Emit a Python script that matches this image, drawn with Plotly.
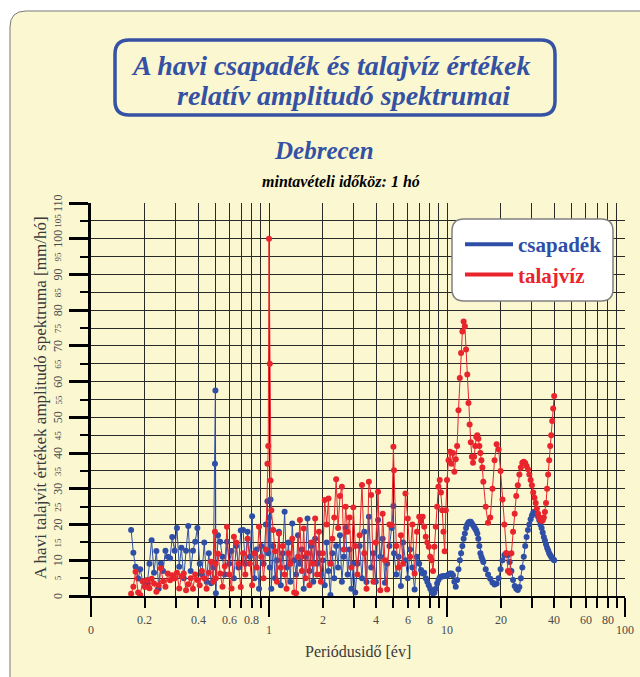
import plotly.graph_objects as go
import math

# ---------------- data ----------------
periods = [
    0.168, 0.173, 0.178, 0.184, 0.189, 0.195, 0.201, 0.207, 0.213, 0.219,
    0.226, 0.233, 0.240, 0.247, 0.254, 0.262, 0.270, 0.278, 0.286, 0.295,
    0.304, 0.313, 0.322, 0.332, 0.342, 0.352, 0.363, 0.374, 0.385, 0.396,
    0.408, 0.420, 0.433, 0.446, 0.459, 0.473, 0.487, 0.497, 0.500, 0.503,
    0.517, 0.532, 0.548, 0.564, 0.581, 0.598, 0.616, 0.635, 0.654, 0.674,
    0.694, 0.715, 0.736, 0.758, 0.781, 0.804, 0.828, 0.853, 0.879, 0.905,
    0.932, 0.960, 0.980, 0.990, 1.000, 1.010, 1.020, 1.030,
    1.056, 1.082, 1.109, 1.137, 1.165, 1.194, 1.224, 1.255, 1.286, 1.318,
    1.351, 1.385, 1.420, 1.455, 1.491, 1.529, 1.567, 1.606, 1.646, 1.687,
    1.729, 1.773, 1.817, 1.862, 1.909, 1.957, 2.006, 2.056, 2.107, 2.160,
    2.214, 2.269, 2.326, 2.384, 2.444, 2.505, 2.567, 2.632, 2.697, 2.765,
    2.834, 2.905, 2.977, 3.052,
    3.14, 3.23, 3.33, 3.43, 3.53, 3.64, 3.75, 3.86, 3.98, 4.10,
    4.22, 4.35, 4.48, 4.61, 4.75, 4.89, 5.00, 5.04, 5.19, 5.35,
    5.51, 5.67, 5.84, 6.02, 6.20, 6.39, 6.58, 6.78, 6.98,
    7.15, 7.3, 7.45, 7.6, 7.75, 7.9, 8.05, 8.2, 8.35, 8.5,
    8.65, 8.8, 8.95, 9.1, 9.25, 9.4, 9.55, 9.7, 9.85,
    10.0, 10.2, 10.4, 10.6, 10.8, 11.0, 11.2, 11.4, 11.6, 11.8,
    12.0, 12.2, 12.4, 12.6, 12.8, 13.0, 13.2, 13.4, 13.6, 13.8,
    14.0, 14.2, 14.4, 14.6, 14.8, 15.0, 15.2, 15.4, 15.6, 15.8,
    16.0,
    16.5, 17.0, 17.5, 18.0, 18.5, 19.0, 19.5, 20.0, 20.5, 21.0,
    21.5, 22.0, 22.5, 23.0, 23.5, 24.0, 24.5, 25.0, 25.5, 26.0,
    26.5, 27.0, 27.5, 28.0, 28.5, 29.0, 29.5, 30.0, 30.5, 31.0,
    31.5, 32.0, 32.5, 33.0, 33.5, 34.0, 34.5, 35.0, 35.5, 36.0,
    36.5, 37.0, 37.5, 38.0, 38.5, 39.0, 39.5, 40.0,
]

csapadek = [
    18.5, 12.1, 8.2, 4.9, 7.5, 4.2, 2.8, 3.5, 9.0, 15.6,
    6.5, 12.6, 2.0, 9.1, 7.0, 12.7, 11.0, 10.6, 16.5, 12.7,
    19.0, 8.2, 13.5, 5.0, 12.7, 19.6, 7.0, 12.7, 15.2, 19.0,
    9.0, 6.0, 15.0, 4.0, 12.0, 3.6, 8.0, 37.0, 57.5, 0.8,
    17.0, 15.2, 11.0, 6.0, 15.2, 9.0, 12.6, 5.0, 14.0, 8.0,
    18.3, 18.5, 9.0, 18.0, 11.0, 22.3, 5.0, 13.0, 2.0, 14.0,
    9.0, 20.0, 26.5, 12.0, 22.0, 8.0, 27.0, 2.0,
    14, 5, 10, 18, 3, 12, 23.6, 8, 15, 4,
    20.3, 10, 6, 17, 9, 13, 2, 11, 21.7, 7,
    14, 4, 16, 9, 12, 6, 10, 3, 15, 7,
    0.3, 12, 5, 14, 8, 17, 4, 11, 19, 6,
    13, 2, 9, 1,
    9, 14, 5, 18, 3.9, 22.2, 8, 12, 4, 21.3,
    11, 16, 3.7, 9, 14, 19, 25.2, 12, 6, 11,
    2.8, 15, 10, 5, 13, 8, 1.8, 11, 9,
    7.3, 6.3, 6.5, 5, 4, 3, 2, 1.2, 0.7, 1.0,
    2, 3.5, 4.5, 5.2, 5.4, 5.5, 5.5, 5.6, 5.6,
    5.7, 6.0, 6.3, 6.3, 5.8, 4.0, 2.6, 4.5, 7.5, 10,
    12, 14, 16, 17.5, 19, 20, 20.6, 20.8, 20.8, 20.3,
    19.8, 19.3, 18.8, 18.3, 17.5, 16, 14, 12, 11, 10.2,
    9.5,
    7.5, 6, 4.8, 3.8, 3.2, 3.5, 5, 7.5, 10, 11.5,
    12, 11.5, 9.5, 7, 4.5, 2.8, 2, 1.7, 2.5, 5,
    8, 11, 14, 16.5, 18.5, 20, 21.5, 22.5, 23.3, 23.6,
    23.4, 23, 22.2, 21.2, 20, 19, 17.8, 16.5, 15.5, 14.5,
    13.5, 12.8, 12, 11.5, 11, 10.6, 10.3, 10,
]

talajviz = [
    0.6, 2.6, 6.8, 1.0, 0.3, 4.1, 2.5, 4.5, 2.2, 4.8,
    3.5, 1.2, 3.0, 7.8, 4.1, 2.6, 6.3, 4.4, 5.8, 4.9,
    6.5, 2.1, 5.5, 6.3, 1.6, 3.3, 5.0, 2.0, 6.0, 4.5,
    3.0, 7.0, 5.0, 2.0, 6.5, 9.6, 4.0, 18.0, 9.0, 5.0,
    11.8, 6.3, 2.6, 8.3, 19.4, 6.0, 2.1, 16.6, 15.0, 9.0,
    2.5, 12.0, 6.0, 16.0, 9.0, 3.0, 12.0, 8.0, 19.4, 11.0,
    5.0, 13.0, 37.0, 42.0, 100.0, 65.0, 32.3, 24.0,
    18.5, 12.5, 4, 17.5, 8, 14, 6, 2, 12, 9,
    16, 1, 0.8, 11, 21.3, 7, 18.9, 5, 12, 3,
    15, 9, 21.7, 6, 18, 4, 12, 26.9, 20, 27.3,
    9, 16, 22, 32.7, 19, 28, 30.6, 13, 25, 18,
    22, 8, 24.8, 14,
    6, 17, 31.1, 12, 2, 32, 28.3, 4, 15, 29.2,
    1.6, 23, 10, 1.8, 20, 19.9, 41.8, 35.2, 14, 8,
    17, 9, 28.7, 21.7, 11, 20, 6.3, 18, 22.2,
    21, 22.2, 19.4, 16.6, 15, 13.8, 11, 10, 7, 13.8,
    19.4, 25, 30.6, 32.5, 29, 24, 18, 12.5, 24,
    32.5, 38, 40.4, 37, 40, 34.8, 38.3, 42, 52, 61,
    68, 74, 76.8, 75.5, 69, 62, 54, 48, 43, 39,
    37.3, 39, 42, 44.5, 45, 44, 42, 40, 38, 36,
    32,
    25, 20.5, 22, 30, 38, 42.5, 41, 35, 27, 20,
    12, 7, 6.5, 12, 18, 23, 28, 31, 34, 36,
    37.3, 37.6, 37.2, 36.4, 35.5, 34, 32.5, 31, 29, 27.5,
    26, 24.5, 23, 22, 21.3, 21, 21.2, 22, 23.5, 26,
    30, 34, 38, 42, 45, 49, 52.5, 56,
]

series_names = ["csapadék", "talajvíz"]

x_ticks_upper = [0.2, 0.4, 0.6, 0.8, 2, 4, 6, 8, 20, 40, 60, 80]
x_labels_upper = ["0.2", "0.4", "0.6", "0.8", "2", "4", "6", "8", "20", "40", "60", "80"]
x_ticks_lower = [0.1, 1, 10, 100]
x_labels_lower = ["0", "1", "10", "100"]
x_minor = [0.2, 0.3, 0.4, 0.5, 0.6, 0.7, 0.8, 0.9,
           2, 3, 4, 5, 6, 7, 8, 9,
           20, 30, 40, 50, 60, 70, 80, 90]
y_ticks = list(range(0, 111, 5))

# ---------------- styling ----------------
BLUE = "#2F4FA7"
RED = "#E8242C"
PANEL = "#FBF7D1"
SERIF = "Liberation Serif"

W, H = 640, 677
L, R, T, B = 91, 625, 203, 596


def fx(px):
    return (px - L) / (R - L)


def fy(py):
    return (B - py) / (B - T)


def rounded(x0, y0, x1, y1, r):
    pts = [
        ("M", [(x0 + r, y0)]),
        ("L", [(x1 - r, y0)]),
        ("Q", [(x1, y0), (x1, y0 + r)]),
        ("L", [(x1, y1 - r)]),
        ("Q", [(x1, y1), (x1 - r, y1)]),
        ("L", [(x0 + r, y1)]),
        ("Q", [(x0, y1), (x0, y1 - r)]),
        ("L", [(x0, y0 + r)]),
        ("Q", [(x0, y0), (x0 + r, y0)]),
    ]
    s = ""
    for cmd, pp in pts:
        s += cmd + " " + " ".join(f"{fx(a):.5f},{fy(b):.5f}" for a, b in pp) + " "
    return s + "Z"


fig = go.Figure()
fig.add_trace(go.Scatter(
    x=periods, y=csapadek, mode="lines+markers",
    line=dict(color=BLUE, width=1), marker=dict(size=6, color=BLUE),
    showlegend=False, name=series_names[0]))
fig.add_trace(go.Scatter(
    x=periods, y=talajviz, mode="lines+markers",
    line=dict(color=RED, width=1), marker=dict(size=6, color=RED),
    showlegend=False, name=series_names[1]))
# legend entries
fig.add_trace(go.Scatter(
    x=[None], y=[None], mode="lines", line=dict(color=BLUE, width=4),
    name=f"<span style='color:{BLUE}'><b>{series_names[0]}</b></span>"))
fig.add_trace(go.Scatter(
    x=[None], y=[None], mode="lines", line=dict(color=RED, width=4),
    name=f"<span style='color:{RED}'><b>{series_names[1]}</b></span>"))

shapes = [
    dict(type="path", xref="paper", yref="paper", layer="below",
         path=rounded(10, 11, 680, 720, 16), fillcolor=PANEL,
         line=dict(color="#7a7a7a", width=1)),
    dict(type="path", xref="paper", yref="paper", layer="above",
         path=rounded(115, 40, 555, 115, 14), fillcolor="rgba(0,0,0,0)",
         line=dict(color="#3552A4", width=3.5)),
    dict(type="path", xref="paper", yref="paper", layer="above",
         path=rounded(452, 219, 613, 301, 12), fillcolor="white",
         line=dict(color="#808080", width=1.5)),
]

ann = []
title_font = dict(family=SERIF, size=28, color="#3451A3")
ann.append(dict(text="<b><i>A havi csapadék és talajvíz értékek</i></b>",
                x=fx(330), y=fy(65), xref="paper", yref="paper",
                showarrow=False, font=title_font, xanchor="center", yanchor="middle"))
ann.append(dict(text="<b><i>relatív amplitudó spektrumai</i></b>",
                x=fx(343), y=fy(95), xref="paper", yref="paper",
                showarrow=False, font=title_font, xanchor="center", yanchor="middle"))
ann.append(dict(text="<b><i>Debrecen</i></b>",
                x=fx(324), y=fy(151), xref="paper", yref="paper",
                showarrow=False, font=dict(family=SERIF, size=25, color="#3451A3"),
                xanchor="center", yanchor="middle"))
ann.append(dict(text="<b><i>mintavételi időköz: 1 hó</i></b>",
                x=fx(341), y=fy(181), xref="paper", yref="paper",
                showarrow=False, font=dict(family=SERIF, size=16, color="black"),
                xanchor="center", yanchor="middle"))

tick_font = dict(family=SERIF, size=12, color="#4a4a4a")
for v, t in zip(x_ticks_upper, x_labels_upper):
    ann.append(dict(text=t, x=math.log10(v), y=fy(620), xref="x", yref="paper",
                    showarrow=False, font=tick_font, xanchor="center", yanchor="middle"))
for v, t in zip(x_ticks_lower, x_labels_lower):
    ann.append(dict(text=t, x=math.log10(v), y=fy(630), xref="x", yref="paper",
                    showarrow=False, font=tick_font, xanchor="center", yanchor="middle"))
for v in y_ticks:
    big = (v % 10 == 0)
    ann.append(dict(text=str(v), x=fx(58), y=v, xref="paper", yref="y",
                    showarrow=False, textangle=-90,
                    font=dict(family=SERIF, size=12 if big else 9, color="#4a4a4a"),
                    xanchor="center", yanchor="middle"))

ann.append(dict(text="A havi talajvít értékek amplitudó spektruma [mm/hó]",
                x=fx(40), y=fy(398), xref="paper", yref="paper", textangle=-90,
                showarrow=False, font=dict(family=SERIF, size=17, color="#3a3a3a"),
                xanchor="center", yanchor="middle"))
ann.append(dict(text="Periódusidő [év]",
                x=fx(358), y=fy(651), xref="paper", yref="paper",
                showarrow=False, font=dict(family=SERIF, size=16, color="#3a3a3a"),
                xanchor="center", yanchor="middle"))

GRID = "#2a2a2a"
fig.update_layout(
    width=W, height=H,
    margin=dict(l=L, r=W - R, t=T, b=H - B, pad=0),
    paper_bgcolor="white",
    plot_bgcolor="rgba(0,0,0,0)",
    shapes=shapes,
    annotations=ann,
    showlegend=True,
    hovermode=False,
    legend=dict(x=fx(460), y=fy(224), xanchor="left", yanchor="top",
                bgcolor="rgba(0,0,0,0)", borderwidth=0,
                font=dict(family=SERIF, size=21), itemwidth=48,
                tracegroupgap=4),
    xaxis=dict(type="log", range=[-1, 2], tickvals=x_ticks_lower,
               ticks="outside", ticklen=19, tickwidth=2, tickcolor="black",
               showticklabels=False, showgrid=True, gridcolor=GRID, gridwidth=1,
               showline=True, linecolor="black", linewidth=2, zeroline=False,
               minor=dict(tickvals=x_minor, ticks="outside", ticklen=10,
                          tickwidth=2, tickcolor="black", showgrid=True,
                          gridcolor=GRID, gridwidth=1)),
    yaxis=dict(range=[0, 110], tickvals=list(range(0, 111, 10)),
               ticks="outside", ticklen=19, tickwidth=3, tickcolor="black",
               showticklabels=False, showgrid=True, gridcolor=GRID, gridwidth=1,
               showline=True, linecolor="black", linewidth=3, zeroline=False,
               minor=dict(dtick=5, tick0=0, ticks="outside", ticklen=8,
                          tickwidth=2, tickcolor="black", showgrid=True,
                          gridcolor=GRID, gridwidth=1)),
)

fig.write_html("out.html",
               config={"displayModeBar": False},
               post_script="document.body.style.margin='0px';"
                           "document.body.style.overflow='hidden';")
